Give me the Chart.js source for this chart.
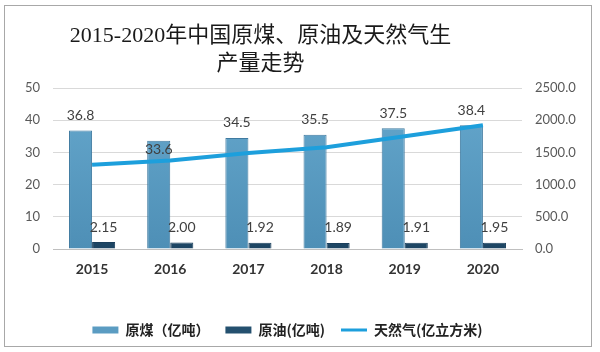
<!DOCTYPE html>
<html><head><meta charset="utf-8">
<script src="https://cdn.jsdelivr.net/npm/chart.js@4.4.1/dist/chart.umd.min.js"></script>
<style>
html,body{margin:0;padding:0;background:#fff;}
#wrap{position:relative;width:600px;height:352px;}
#frame{position:absolute;left:4px;top:5px;width:586px;height:340px;border:1.5px solid #a8a8a8;pointer-events:none;}
canvas{display:block}
</style></head><body>
<div id="wrap"><canvas id="c" width="600" height="352"></canvas><div id="frame"></div></div>
<script>
const years = ['2015','2016','2017','2018','2019','2020'];
const coal = [36.8, 33.6, 34.5, 35.5, 37.5, 38.4];
const oil = [2.15, 2.00, 1.92, 1.89, 1.91, 1.95];
const gas = [1310, 1375, 1490, 1580, 1750, 1922];
const leftTicks = [0, 10, 20, 30, 40, 50];
const rightTicks = [0, 500, 1000, 1500, 2000, 2500];
const titleLines = ['2015-2020年中国原煤、原油及天然气生', '产量走势'];
const seriesNames = ['原煤（亿吨）', '原油(亿吨)', '天然气(亿立方米)'];

const COAL_COLOR = '#5b9cc2', OIL_COLOR = '#24506f', GAS_COLOR = '#1d9fdc';
const coalLabelNudge = [0, 24, 0, 0, 0, 0];

function vGrad(chart, top, bottom, fallback) {
  const a = chart.chartArea;
  if (!a) return fallback;
  const g = chart.ctx.createLinearGradient(0, a.top, 0, a.bottom);
  g.addColorStop(0, top); g.addColorStop(1, bottom);
  return g;
}

const titlePlugin = {
  id: 'twoLineTitle',
  afterDraw(chart) {
    const ctx = chart.ctx, a = chart.chartArea;
    ctx.save();
    ctx.font = "22px 'Liberation Serif', 'Noto Sans CJK SC'";
    ctx.fillStyle = '#1a1a1a';
    ctx.textAlign = 'center';
    ctx.textBaseline = 'middle';
    const cx = (a.left + a.right) / 2 - 27;
    ctx.fillText(titleLines[0], cx, 36);
    ctx.fillText(titleLines[1], cx, 64);
    ctx.restore();
  }
};

const labelPlugin = {
  id: 'barLabels',
  afterDatasetsDraw(chart) {
    const ctx = chart.ctx;
    ctx.save();
    ctx.font = "14px Lato, 'Open Sans', sans-serif";
    ctx.fillStyle = '#404040';
    ctx.textAlign = 'center';
    ctx.textBaseline = 'middle';
    chart.getDatasetMeta(0).data.forEach((el, i) => {
      ctx.fillText(coal[i].toFixed(1), el.x, el.y - 15 + coalLabelNudge[i]);
    });
    chart.getDatasetMeta(1).data.forEach((el, i) => {
      ctx.fillText(oil[i].toFixed(2), el.x, el.y - 15);
    });
    ctx.restore();
  }
};

new Chart(document.getElementById('c'), {
  data: {
    labels: years,
    datasets: [
      { type: 'bar', label: seriesNames[0], data: coal, yAxisID: 'y', order: 1,
        backgroundColor: c => vGrad(c.chart, '#66a8cd', '#4e8fb6', COAL_COLOR),
        borderColor: '#3f7aa0', borderWidth: 1, borderSkipped: 'bottom',
        barPercentage: 1, categoryPercentage: 0.59 },
      { type: 'bar', label: seriesNames[1], data: oil, yAxisID: 'y', order: 1,
        backgroundColor: c => vGrad(c.chart, '#2f6488', '#1d4563', OIL_COLOR),
        borderColor: '#1b3f5c', borderWidth: 1, borderSkipped: 'bottom',
        barPercentage: 1, categoryPercentage: 0.59 },
      { type: 'line', label: seriesNames[2], data: gas, yAxisID: 'y2', order: 0,
        borderColor: GAS_COLOR, backgroundColor: GAS_COLOR, borderWidth: 4,
        pointRadius: 0, tension: 0, fill: false }
    ]
  },
  options: {
    responsive: false,
    devicePixelRatio: 1,
    animation: false,
    layout: { padding: { top: 88, left: 0, right: 0, bottom: 5 } },
    plugins: {
      title: { display: false },
      tooltip: { enabled: false },
      legend: {
        position: 'bottom',
        fullSize: false,
        labels: {
          usePointStyle: true,
          pointStyleWidth: 26,
          boxHeight: 7,
          padding: 16,
          color: '#222',
          font: { family: "'Noto Sans CJK SC'", size: 14, weight: 'bold' },
          generateLabels: chart => chart.data.datasets.map((ds, i) => ({
            text: ds.label,
            datasetIndex: i,
            fillStyle: i === 0 ? COAL_COLOR : (i === 1 ? OIL_COLOR : GAS_COLOR),
            strokeStyle: i === 2 ? GAS_COLOR : 'rgba(0,0,0,0)',
            lineWidth: i === 2 ? 3 : 0,
            pointStyle: i === 2 ? 'line' : 'rect',
            hidden: false,
            fontColor: '#222'
          }))
        }
      }
    },
    scales: {
      x: {
        grid: { display: false, drawTicks: false },
        border: { display: true, color: '#bfbfbf' },
        ticks: { color: '#333', padding: 12, font: { family: 'Lato', size: 14, weight: 'bold' } },
        afterFit: s => { s.height = 58; }
      },
      y: {
        position: 'left', min: 0, max: 50,
        afterBuildTicks: s => { s.ticks = leftTicks.map(v => ({ value: v })); },
        grid: { color: '#d9d9d9', drawTicks: false },
        border: { display: false },
        ticks: { color: '#595959', padding: 13, font: { family: 'Lato', size: 13 } },
        afterFit: s => { s.width = 53; }
      },
      y2: {
        position: 'right', min: 0, max: 2500,
        afterBuildTicks: s => { s.ticks = rightTicks.map(v => ({ value: v })); },
        grid: { display: false, drawTicks: false },
        border: { display: false },
        ticks: { color: '#595959', padding: 13, font: { family: 'Lato', size: 13 },
                 callback: v => Number(v).toFixed(1) },
        afterFit: s => { s.width = 78; }
      }
    }
  },
  plugins: [titlePlugin, labelPlugin]
});
</script>
</body></html>
